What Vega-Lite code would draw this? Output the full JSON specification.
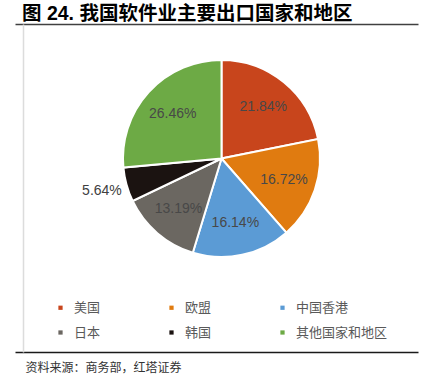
{
  "$schema": "https://vega.github.io/schema/vega-lite/v6.json",
  "width": 403,
  "height": 328,
  "autosize": {"type": "none"},
  "padding": {"left": 15, "top": 24, "right": 15, "bottom": 24},
  "background": "white",
  "config": {"view": {"stroke": null}},
  "title": {
    "text": "图 24. 我国软件业主要出口国家和地区",
    "anchor": "start",
    "font": "Liberation Sans, Noto Sans CJK SC",
    "fontSize": 19.5,
    "fontWeight": "bold",
    "color": "#000000",
    "dx": 7,
    "dy": 9,
    "baseline": "middle",
    "offset": 0
  },
  "data": {
    "values": [
      {"name": "美国", "share": 0.2184},
      {"name": "欧盟", "share": 0.1672},
      {"name": "中国香港", "share": 0.1614},
      {"name": "日本", "share": 0.1319},
      {"name": "韩国", "share": 0.0564},
      {"name": "其他国家和地区", "share": 0.2646}
    ]
  },
  "transform": [{"window": [{"op": "row_number", "as": "rank"}]}],
  "resolve": {"axis": {"x": "independent", "y": "independent"}},
  "layer": [
    {
      "mark": {"type": "arc", "outerRadius": 98.5, "stroke": "white", "strokeWidth": 2},
      "encoding": {
        "theta": {"field": "share", "type": "quantitative", "stack": true},
        "order": {"field": "rank", "type": "quantitative"},
        "color": {
          "field": "name",
          "type": "nominal",
          "scale": {
            "domain": ["美国", "欧盟", "中国香港", "日本", "韩国", "其他国家和地区"],
            "range": ["#C8451C", "#E07B10", "#5B9BD5", "#6B6761", "#1B1311", "#6DAA45"]
          },
          "legend": {
            "title": null,
            "orient": "none",
            "direction": "horizontal",
            "legendX": 39,
            "legendY": 277,
            "columns": 3,
            "columnPadding": 64,
            "rowPadding": 11,
            "padding": 0,
            "symbolType": "square",
            "symbolSize": 18,
            "symbolStrokeWidth": 0,
            "labelFont": "Noto Sans CJK SC",
            "labelFontSize": 13,
            "labelColor": "#595959",
            "labelOffset": 7
          }
        },
        "x": {
          "datum": 0,
          "type": "quantitative",
          "scale": {"domain": [-206.5, 196.5], "nice": false, "zero": false},
          "axis": {"orient": "top", "domain": true, "domainColor": "#404040", "domainWidth": 1.5, "ticks": false, "labels": false, "grid": false, "title": null}
        },
        "y": {
          "datum": 0,
          "type": "quantitative",
          "scale": {"domain": [-193.5, 134.5], "nice": false, "zero": false},
          "axis": {"orient": "left", "offset": -8, "domain": true, "domainColor": "#dcdcdc", "domainWidth": 1.5, "ticks": false, "labels": false, "grid": false, "title": null}
        }
      }
    },
    {
      "mark": {"type": "text", "radius": 66, "font": "Liberation Sans", "fontSize": 14, "fill": "#484848"},
      "encoding": {
        "theta": {"field": "share", "type": "quantitative", "stack": true},
        "order": {"field": "rank", "type": "quantitative"},
        "text": {
          "condition": {"test": "datum.name === '韩国'", "value": ""},
          "field": "share",
          "type": "quantitative",
          "format": ".2%"
        },
        "x": {
          "datum": 0,
          "type": "quantitative",
          "scale": {"domain": [-206.5, 196.5], "nice": false, "zero": false},
          "axis": {
            "orient": "bottom", "domain": true, "domainColor": "#1a1a1a", "domainWidth": 1.5,
            "ticks": false, "labels": false, "grid": false,
            "title": "资料来源：商务部，红塔证券",
            "titleFont": "Noto Sans CJK SC",
            "titleFontSize": 12,
            "titleFontWeight": "normal",
            "titleColor": "#333333",
            "titleAnchor": "start",
            "titleAlign": "left",
            "titleBaseline": "middle",
            "titleX": 10,
            "titleY": 15
          }
        },
        "y": {
          "datum": 0,
          "type": "quantitative",
          "scale": {"domain": [-193.5, 134.5], "nice": false, "zero": false},
          "axis": null
        }
      }
    },
    {
      "mark": {"type": "text", "radius": 124, "font": "Liberation Sans", "fontSize": 14, "fill": "#404040"},
      "encoding": {
        "theta": {"field": "share", "type": "quantitative", "stack": true},
        "order": {"field": "rank", "type": "quantitative"},
        "text": {
          "condition": {"test": "datum.name !== '韩国'", "value": ""},
          "field": "share",
          "type": "quantitative",
          "format": ".2%"
        },
        "x": {
          "datum": 0,
          "type": "quantitative",
          "scale": {"domain": [-206.5, 196.5], "nice": false, "zero": false},
          "axis": null
        },
        "y": {
          "datum": 0,
          "type": "quantitative",
          "scale": {"domain": [-193.5, 134.5], "nice": false, "zero": false},
          "axis": null
        }
      }
    }
  ]
}
